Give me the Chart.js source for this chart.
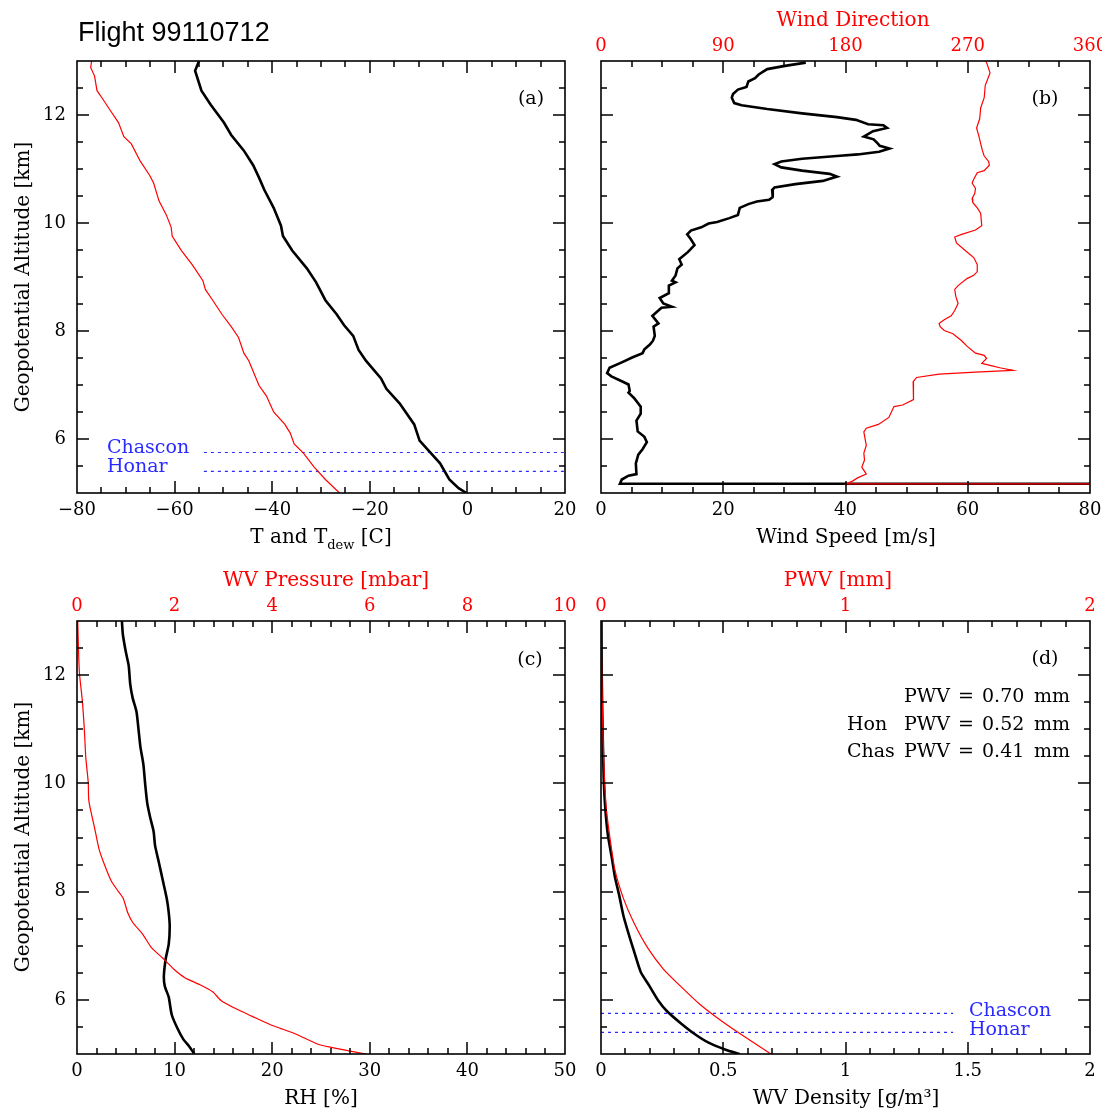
<!DOCTYPE html>
<html>
<head>
<meta charset="utf-8">
<script src="https://cdn.jsdelivr.net/npm/chart.js@4.4.1/dist/chart.umd.min.js"></script>
<style>
  body { margin: 0; background: #fff; width: 1102px; height: 1112px; overflow: hidden; position: relative; }
  canvas { position: absolute; }
</style>
</head>
<body>
<canvas id="chartA" width="583" height="560" style="left:0px;top:0px"></canvas>
<canvas id="chartB" width="519" height="560" style="left:583px;top:0px"></canvas>
<canvas id="chartC" width="583" height="552" style="left:0px;top:560px"></canvas>
<canvas id="chartD" width="519" height="552" style="left:583px;top:560px"></canvas>
<script>
// altitude axis (km), shared by all four panels
const altLabels = [6, 8, 10, 12];

// (a) temperature and dew point [C]
const tempAlt = [13.00, 12.82, 12.45, 12.19, 11.86, 11.63, 11.34, 11.07, 10.84, 10.61, 10.28, 9.95, 9.76, 9.49, 9.16, 8.90, 8.57, 8.31, 8.11, 7.91, 7.65, 7.45, 7.12, 6.93, 6.66, 6.27, 5.97, 5.78, 5.55, 5.25, 5.09, 5.00];
const tempC   = [-55.0, -55.8, -54.5, -52.6, -49.9, -48.4, -45.8, -43.9, -42.7, -41.6, -39.7, -38.2, -37.8, -35.9, -32.9, -31.0, -29.1, -26.8, -25.3, -23.4, -22.3, -20.8, -17.7, -16.6, -13.9, -10.9, -9.8, -7.9, -5.6, -3.7, -1.8, -0.2];
const dewAlt  = [13.00, 12.88, 12.72, 12.45, 12.32, 12.06, 11.86, 11.60, 11.47, 11.14, 10.88, 10.74, 10.41, 10.15, 9.92, 9.76, 9.49, 9.23, 8.93, 8.77, 8.57, 8.31, 8.08, 7.88, 7.59, 7.45, 6.99, 6.80, 6.50, 6.27, 6.11, 5.91, 5.74, 5.48, 5.25, 5.00];
const dewC    = [-77.0, -77.2, -76.4, -75.9, -74.9, -73.0, -71.5, -70.4, -68.9, -67.0, -65.1, -64.3, -63.2, -61.7, -60.7, -60.5, -58.6, -56.4, -54.2, -53.7, -52.2, -50.3, -48.4, -46.9, -45.8, -44.8, -42.7, -41.2, -39.7, -37.4, -36.3, -35.5, -33.6, -31.4, -29.1, -26.2];
const tempLabels = [-80, -60, -40, -20, 0, 20];

// site altitudes (km) marked with dotted lines
const siteNames = ['Chascon', 'Honar'];
const siteAlt = [5.75, 5.40];
const siteSpanA = [-54, 20];
const siteSpanD = [0, 1.44];

// (b) wind speed [m/s] and direction [deg]
const windAlt = [12.97, 12.91, 12.85, 12.75, 12.68, 12.62, 12.52, 12.47, 12.39, 12.32, 12.22, 12.18, 12.11, 12.03, 11.96, 11.91, 11.83, 11.81, 11.76, 11.70, 11.60, 11.55, 11.47, 11.43, 11.38, 11.32, 11.27, 11.24, 11.19, 11.14, 11.09, 11.03, 10.97, 10.91, 10.86, 10.78, 10.72, 10.66, 10.61, 10.48, 10.43, 10.40, 10.35, 10.28, 10.15, 10.09, 10.02, 9.99, 9.92, 9.86, 9.79, 9.70, 9.59, 9.46, 9.33, 9.23, 9.16, 9.03, 8.93, 8.90, 8.84, 8.70, 8.61, 8.51, 8.45, 8.43, 8.31, 8.28, 8.14, 8.08, 7.91, 7.82, 7.75, 7.66, 7.59, 7.51, 7.42, 7.32, 7.22, 7.16, 7.07, 7.01, 6.89, 6.86, 6.76, 6.60, 6.47, 6.34, 6.14, 6.04, 5.94, 5.81, 5.71, 5.55, 5.35, 5.32, 5.25, 5.17, 5.17];
const windSpd = [33.5, 30.1, 27.2, 25.8, 25.2, 24.1, 23.8, 22.4, 21.6, 21.4, 21.8, 23.0, 27.2, 32.9, 38.6, 41.7, 43.7, 46.2, 46.8, 44.5, 43.0, 44.6, 45.3, 45.6, 47.2, 45.5, 42.0, 38.6, 32.9, 29.5, 28.4, 29.5, 32.9, 37.4, 38.6, 36.3, 31.8, 28.4, 28.0, 28.1, 27.5, 25.5, 24.1, 22.7, 22.4, 21.0, 19.0, 17.6, 16.4, 14.7, 14.1, 14.7, 15.3, 14.2, 12.8, 13.2, 12.5, 12.2, 11.6, 12.2, 11.1, 11.1, 9.6, 10.2, 11.6, 9.9, 8.7, 8.4, 9.4, 8.6, 8.8, 8.5, 8.0, 7.1, 6.8, 5.1, 3.4, 1.4, 1.0, 1.7, 3.4, 4.5, 4.7, 4.5, 5.4, 6.5, 6.5, 5.8, 6.0, 7.1, 7.5, 6.8, 6.1, 5.7, 5.8, 4.5, 3.4, 3.1, 200];
const dirAlt = [13.00, 12.91, 12.78, 12.55, 12.32, 12.13, 11.93, 11.76, 11.60, 11.47, 11.34, 11.24, 11.14, 11.07, 10.97, 10.93, 10.81, 10.74, 10.64, 10.55, 10.45, 10.38, 10.28, 10.18, 9.95, 9.87, 9.79, 9.74, 9.63, 9.49, 9.36, 9.23, 9.10, 9.03, 8.97, 8.84, 8.77, 8.64, 8.51, 8.38, 8.28, 8.21, 8.14, 8.08, 8.01, 7.95, 7.82, 7.72, 7.59, 7.55, 7.49, 7.40, 7.36, 7.32, 7.27, 7.24, 7.20, 7.14, 7.06, 6.89, 6.73, 6.63, 6.60, 6.40, 6.27, 6.20, 6.13, 5.88, 5.74, 5.61, 5.48, 5.35, 5.28, 5.22, 5.17, 5.17];
const dirDeg = [283.4, 284.7, 286.4, 282.9, 282.1, 279.5, 278.8, 276.5, 278.3, 279.5, 280.8, 282.1, 285.4, 285.9, 282.1, 277.0, 274.4, 273.2, 275.7, 275.2, 273.2, 273.7, 277.0, 279.5, 280.3, 275.7, 265.5, 260.4, 261.7, 268.1, 274.4, 277.0, 277.0, 274.4, 269.4, 262.9, 260.4, 261.2, 262.9, 260.4, 257.8, 252.7, 248.9, 249.7, 252.7, 259.1, 265.5, 269.4, 275.7, 282.1, 283.9, 280.3, 287.2, 293.6, 303.3, 275.7, 248.9, 232.3, 229.8, 229.8, 230.3, 222.1, 215.7, 211.9, 204.2, 195.3, 193.5, 195.3, 193.5, 194.0, 192.0, 195.3, 188.9, 185.1, 180.5, 720];
const speedLabels = [0, 20, 40, 60, 80];
const dirLabels = [0, 90, 180, 270, 360];

// (c) relative humidity [%] and water vapour pressure [mbar]
const rhAlt = [13.00, 12.75, 12.43, 12.17, 11.84, 11.58, 11.32, 11.00, 10.67, 10.35, 9.96, 9.63, 9.37, 9.11, 8.85, 8.53, 8.20, 7.87, 7.61, 7.35, 7.03, 6.77, 6.44, 6.25, 6.05, 5.73, 5.47, 5.27, 5.14, 5.01];
const rhPct = [4.6, 4.7, 5.0, 5.3, 5.45, 5.7, 6.1, 6.3, 6.5, 6.8, 7.0, 7.2, 7.5, 7.85, 8.0, 8.4, 8.8, 9.2, 9.4, 9.5, 9.4, 9.1, 8.9, 9.0, 9.4, 9.7, 10.3, 10.9, 11.5, 12.0];
const wvpAlt = [13.00, 12.49, 12.04, 11.52, 11.00, 10.48, 10.02, 9.70, 9.50, 9.18, 8.79, 8.53, 8.20, 8.00, 7.87, 7.61, 7.42, 7.22, 6.96, 6.77, 6.57, 6.41, 6.28, 6.15, 5.99, 5.83, 5.70, 5.53, 5.47, 5.37, 5.18, 5.09, 5.00];
const wvpMbar = [0.015, 0.03, 0.05, 0.11, 0.15, 0.18, 0.23, 0.24, 0.28, 0.36, 0.45, 0.55, 0.70, 0.85, 0.95, 1.04, 1.15, 1.34, 1.53, 1.76, 1.98, 2.21, 2.52, 2.78, 2.95, 3.27, 3.58, 3.99, 4.18, 4.48, 4.94, 5.39, 5.92];
const rhLabels = [0, 10, 20, 30, 40, 50];
const wvpLabels = [0, 2, 4, 6, 8, 10];

// (d) water vapour density [g/m3] and integrated PWV [mm]
const rhoAlt = [13.00, 11.97, 10.87, 10.09, 9.57, 9.05, 8.66, 8.27, 7.94, 7.55, 7.22, 6.90, 6.51, 6.25, 5.99, 5.79, 5.57, 5.37, 5.21, 5.08, 5.00];
const rhoVal = [0.002, 0.003, 0.007, 0.011, 0.017, 0.028, 0.043, 0.057, 0.074, 0.092, 0.113, 0.135, 0.163, 0.199, 0.234, 0.27, 0.326, 0.383, 0.44, 0.51, 0.567];
const pwvAlt = [13.00, 11.71, 10.48, 9.57, 9.05, 8.40, 7.87, 7.42, 6.96, 6.57, 6.25, 5.92, 5.60, 5.34, 5.00];
const pwvVal = [0.0, 0.004, 0.011, 0.021, 0.035, 0.057, 0.092, 0.135, 0.191, 0.255, 0.326, 0.404, 0.496, 0.58, 0.695];
const rhoLabels = [0, 0.5, 1, 1.5, 2];
const pwvLabels = [0, 1, 2];
const pwvRows = [['', '0.70'], ['Hon', '0.52'], ['Chas', '0.41']];

const SERIF = '"DejaVu Serif", serif';
const tickFont = { family: SERIF, size: 18 };
const RED = '#ff0000';
const BLUE = '#2a2aff';

function pts(alts, vals) { return alts.map((h, i) => ({ x: vals[i], y: h })); }
function minus(v) { return v < 0 ? '\u2212' + Math.abs(v) : String(v); }
function fixedTicks(list) { return s => { s.ticks = list.map(v => ({ value: v })); }; }
function boxW(w) { return s => { s.width = w; s.paddingTop = 0; s.paddingBottom = 0; }; }
function boxH(h) { return s => { s.height = h; s.paddingLeft = 0; s.paddingRight = 0; }; }

function line(data, color, width, axis, tension) {
  return { data, borderColor: color, borderWidth: width, pointRadius: 0, showLine: true,
           tension: tension || 0, xAxisID: axis || 'x', clip: 0 };
}
function siteLines(span) {
  return siteAlt.map(h => ({ data: span.map(v => ({ x: v, y: h })), borderColor: BLUE, borderWidth: 1.2,
                             borderDash: [3, 4], pointRadius: 0, showLine: true, xAxisID: 'x' }));
}

function makeScales(p) {
  const none = { display: false, drawTicks: false };
  return {
    x: { type: 'linear', position: 'bottom', min: p.xMin, max: p.xMax,
         afterBuildTicks: fixedTicks(p.xLabels), afterFit: boxH(p.bottomH),
         ticks: { font: tickFont, color: '#000', padding: 7, maxRotation: 0, autoSkip: false, callback: minus },
         grid: none, border: { display: false } },
    x2: { type: 'linear', position: 'top', min: p.topMin, max: p.topMax,
          afterBuildTicks: fixedTicks(p.topLabels || []), afterFit: boxH(61),
          ticks: { display: !!p.topLabels, font: tickFont, color: RED, padding: 4, maxRotation: 0, autoSkip: false, callback: minus },
          grid: none, border: { display: false } },
    y: { type: 'linear', position: 'left', min: 5, max: 13,
         afterBuildTicks: fixedTicks(altLabels), afterFit: boxW(p.leftW),
         ticks: { display: p.yLabels, font: tickFont, color: '#000', padding: 11 },
         grid: none, border: { display: false } },
    y2: { type: 'linear', position: 'right', min: 5, max: 13, afterFit: boxW(p.rightW),
          ticks: { display: false }, grid: none, border: { display: false } }
  };
}

// frame with inward major/minor ticks on all four sides
const frameTicks = {
  id: 'frameTicks',
  afterDatasetsDraw(chart, args, o) {
    const { ctx, chartArea: a } = chart;
    const xs = chart.scales.x, ys = chart.scales.y;
    const isMajor = (v, m) => Math.abs(v / m - Math.round(v / m)) < 1e-6;
    ctx.save();
    ctx.strokeStyle = '#000';
    ctx.lineWidth = 1.5;
    ctx.beginPath();
    let n = Math.round((xs.max - xs.min) / o.xMinor);
    for (let i = 1; i < n; i++) {
      const v = xs.min + i * o.xMinor;
      const px = Math.round(xs.getPixelForValue(v));
      const len = isMajor(v, o.xMajor) ? 12 : 6;
      ctx.moveTo(px, a.bottom); ctx.lineTo(px, a.bottom - len);
      ctx.moveTo(px, a.top); ctx.lineTo(px, a.top + len);
    }
    n = Math.round((ys.max - ys.min) / 0.5);
    for (let i = 1; i < n; i++) {
      const v = ys.min + i * 0.5;
      const py = Math.round(ys.getPixelForValue(v));
      const len = isMajor(v, 2) ? 12 : 6;
      ctx.moveTo(a.left, py); ctx.lineTo(a.left + len, py);
      ctx.moveTo(a.right, py); ctx.lineTo(a.right - len, py);
    }
    ctx.stroke();
    ctx.lineWidth = 1.6;
    ctx.strokeRect(a.left, a.top, a.right - a.left, a.bottom - a.top);
    ctx.restore();
  }
};

// free text, positioned in page pixels
const notes = {
  id: 'notes',
  afterDraw(chart, args, o) {
    const ctx = chart.ctx;
    const [ox, oy] = o.offset;
    (o.items || []).forEach(it => {
      ctx.save();
      const size = it.size || 20;
      ctx.fillStyle = it.color || '#000';
      ctx.textBaseline = it.baseline || 'alphabetic';
      ctx.translate(it.x - ox, it.y - oy);
      if (it.rotate) ctx.rotate(it.rotate);
      const parts = it.parts || [{ t: it.text }];
      const fontOf = p => (p.sub ? Math.round(size * 0.65) : size) + 'px ' + (it.family || SERIF);
      let total = 0;
      parts.forEach(p => { ctx.font = fontOf(p); total += ctx.measureText(p.t).width; });
      let x = it.align === 'left' ? 0 : it.align === 'right' ? -total : -total / 2;
      ctx.textAlign = 'left';
      parts.forEach(p => {
        ctx.font = fontOf(p);
        ctx.fillText(p.t, x, p.sub ? size * 0.3 : 0);
        x += ctx.measureText(p.t).width;
      });
      ctx.restore();
    });
  }
};

Chart.register(frameTicks, notes);

function panel(id, p, datasets, items, offset, minors) {
  return new Chart(document.getElementById(id), {
    type: 'scatter',
    data: { datasets },
    options: {
      responsive: false, animation: false, devicePixelRatio: 1,
      layout: { padding: 0 },
      scales: makeScales(p),
      plugins: {
        legend: { display: false }, tooltip: { enabled: false },
        frameTicks: minors,
        notes: { offset, items }
      }
    }
  });
}

const yTitle = (y) => ({ text: 'Geopotential Altitude [km]', x: 24, y, rotate: -Math.PI / 2, baseline: 'middle' });

// (a)
panel('chartA',
  { xMin: -80, xMax: 20, xLabels: tempLabels, topMin: -80, topMax: 20, leftW: 77, rightW: 18, bottomH: 67, yLabels: true },
  [line(pts(dewAlt, dewC), RED, 1.2), line(pts(tempAlt, tempC), '#000', 2.6), ...siteLines(siteSpanA)],
  [
    { text: 'Flight 99110712', x: 78, y: 41, size: 27, family: '"Liberation Sans", Arial, sans-serif', align: 'left' },
    yTitle(277),
    { parts: [{ t: 'T and T' }, { t: 'dew', sub: true }, { t: ' [C]' }], x: 321, y: 543 },
    { text: '(a)', x: 531, y: 104, size: 19 },
    { text: siteNames[0], x: 107, y: 453, size: 19, color: BLUE, align: 'left' },
    { text: siteNames[1], x: 107, y: 472, size: 19, color: BLUE, align: 'left' }
  ],
  [0, 0], { xMinor: 5, xMajor: 20 });

// (b)
panel('chartB',
  { xMin: 0, xMax: 80, xLabels: speedLabels, topMin: 0, topMax: 360, topLabels: dirLabels, leftW: 18, rightW: 12, bottomH: 67, yLabels: false },
  [line(pts(dirAlt, dirDeg), RED, 1.2, 'x2'), line(pts(windAlt, windSpd), '#000', 2.6)],
  [
    { text: '(b)', x: 1045, y: 104, size: 19 },
    { text: 'Wind Direction', x: 853, y: 26, color: RED },
    { text: 'Wind Speed [m/s]', x: 846, y: 543 }
  ],
  [583, 0], { xMinor: 5, xMajor: 20 });

// (c)
panel('chartC',
  { xMin: 0, xMax: 50, xLabels: rhLabels, topMin: 0, topMax: 10, topLabels: wvpLabels, leftW: 77, rightW: 18, bottomH: 58, yLabels: true },
  [line(pts(wvpAlt, wvpMbar), RED, 1.2, 'x2', 0.2), line(pts(rhAlt, rhPct), '#000', 2.6, 'x', 0.2)],
  [
    yTitle(837),
    { text: '(c)', x: 530, y: 665, size: 19 },
    { text: 'WV Pressure [mbar]', x: 326, y: 586, color: RED },
    { text: 'RH [%]', x: 321, y: 1104 }
  ],
  [0, 560], { xMinor: 2, xMajor: 10 });

// (d)
const pwvItems = [];
pwvRows.forEach((r, i) => {
  const y = 702 + i * 27.5;
  if (r[0]) pwvItems.push({ text: r[0], x: 847, y, size: 19, align: 'left' });
  pwvItems.push({ text: 'PWV', x: 950, y, size: 19, align: 'right' });
  pwvItems.push({ text: '=', x: 966, y, size: 19 });
  pwvItems.push({ text: r[1], x: 982, y, size: 19, align: 'left' });
  pwvItems.push({ text: 'mm', x: 1034, y, size: 19, align: 'left' });
});
panel('chartD',
  { xMin: 0, xMax: 2, xLabels: rhoLabels, topMin: 0, topMax: 2, topLabels: pwvLabels, leftW: 18, rightW: 12, bottomH: 58, yLabels: false },
  [line(pts(pwvAlt, pwvVal), RED, 1.2, 'x2', 0.2), line(pts(rhoAlt, rhoVal), '#000', 2.6, 'x', 0.2), ...siteLines(siteSpanD)],
  [
    { text: '(d)', x: 1045, y: 664, size: 19 },
    { text: 'PWV [mm]', x: 838, y: 586, color: RED },
    { text: 'WV Density [g/m\u00b3]', x: 846, y: 1104 },
    ...pwvItems,
    { text: siteNames[0], x: 969, y: 1016, size: 19, color: BLUE, align: 'left' },
    { text: siteNames[1], x: 969, y: 1035, size: 19, color: BLUE, align: 'left' }
  ],
  [583, 560], { xMinor: 0.1, xMajor: 0.5 });
</script>
</body>
</html>
